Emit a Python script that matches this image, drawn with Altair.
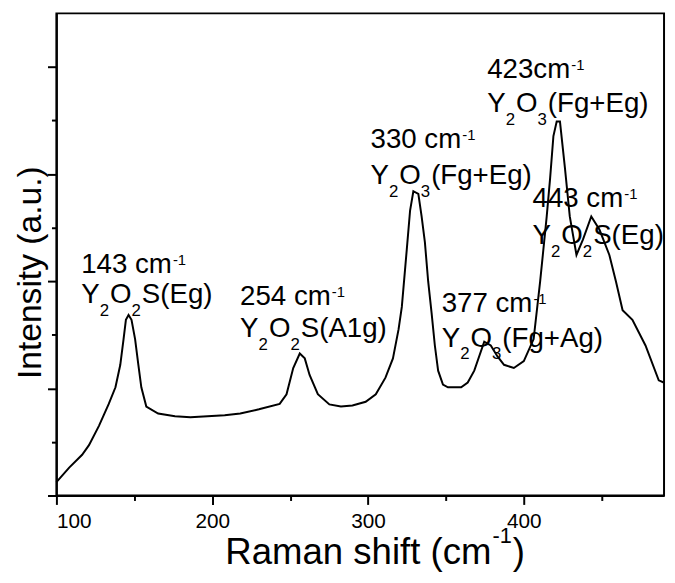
import altair as alt
import pandas as pd

# ---------------- data ----------------
shift = [100.0, 108.2, 116.5, 120.9, 127.3, 133.6, 137.9, 141.0, 143.1, 144.6,
         146.3, 148.2, 150.5, 152.6, 154.5, 157.7, 165.3, 176.1, 186.0, 197.0,
         208.0, 218.0, 230.0, 243.3, 247.7, 252.0, 256.2, 259.4, 262.5, 267.8,
         275.2, 282.6, 290.0, 298.5, 305.0, 311.2, 316.0, 319.6, 321.7, 324.9,
         327.0, 329.1, 332.3, 334.4, 336.5, 338.6, 340.8, 342.9, 345.0, 348.1,
         351.3, 359.8, 364.0, 368.2, 374.6, 378.8, 383.0, 387.3, 393.6, 400.0,
         406.3, 410.5, 414.7, 416.9, 419.0, 421.1, 423.2, 426.4, 429.5, 433.8,
         438.0, 443.3, 448.6, 454.9, 459.1, 463.4, 469.7, 478.1, 486.6, 489.8]
intensity = [0.25, 0.52, 0.76, 0.94, 1.30, 1.71, 2.02, 2.44, 2.92, 3.28,
             3.37, 3.28, 2.92, 2.44, 2.02, 1.66, 1.53, 1.48, 1.46, 1.48,
             1.50, 1.53, 1.61, 1.71, 1.89, 2.38, 2.65, 2.56, 2.25, 1.89,
             1.70, 1.66, 1.68, 1.75, 1.89, 2.20, 2.56, 3.10, 3.52, 4.60,
             5.32, 5.68, 5.63, 5.21, 4.73, 4.00, 3.41, 2.80, 2.33, 2.07,
             2.02, 2.02, 2.11, 2.33, 2.87, 2.80, 2.60, 2.44, 2.38, 2.51,
             2.92, 4.00, 5.21, 5.93, 6.71, 6.98, 6.98, 6.11, 5.21, 4.49,
             4.78, 5.21, 4.96, 4.49, 4.00, 3.46, 3.28, 2.80, 2.15, 2.11]

x_ticks = [100, 150, 200, 250, 300, 350, 400, 450]
y_ticks = [0, 1, 2, 3, 4, 5, 6, 7, 8]

# peak annotations: left edge (cm-1), baseline of line 1 and line 2 (a.u.)
ann_left = [115.9, 217.9, 301.6, 347.3, 376.5, 405.6]
ann_line1 = [4.15, 3.55, 6.48, 3.43, 7.79, 5.39]
ann_line2 = [3.59, 2.96, 5.81, 2.78, 7.16, 4.69]
ann_freq = ["143 cm", "254 cm", "330 cm", "377 cm", "423cm", "443 cm"]
ann_mode = ["Y_2O_2S(Eg)", "Y_2O_2S(A1g)", "Y_2O_3(Fg+Eg)",
            "Y_2O_3(Fg+Ag)", "Y_2O_3(Fg+Eg)", "Y_2O_2S(Eg)"]

x_title = "Raman shift (cm"
y_title = "Intensity (a.u.)"

# ---------------- layout ----------------
W, H = 615, 488
XDOM = [100, 490]
YDOM = [0, 9]
PXX = W / (XDOM[1] - XDOM[0])
PXY = H / (YDOM[1] - YDOM[0])
FONT = "Liberation Sans"
MAIN, SUB, SUP = 28, 17, 15

ARIAL = {' ': .278, '(': .333, ')': .333, '+': .584, '-': .333, '.': .278,
         'A': .667, 'E': .667, 'F': .611, 'O': .778, 'R': .722, 'S': .667,
         'Y': .667, 'a': .556, 'c': .5, 'f': .278, 'g': .556, 'h': .556,
         'i': .222, 'm': .833, 'n': .556, 's': .5, 't': .278}


def tw(s, size):
    return sum(ARIAL.get(ch, .556) for ch in s) * size


rows = []
for left, b1, b2, freq, mode in zip(ann_left, ann_line1, ann_line2, ann_freq, ann_mode):
    # line 1 : frequency + superscript -1
    rows.append(dict(w=left, v=b1, t=freq, fs=MAIN))
    off = tw(freq, MAIN) + 1
    rows.append(dict(w=left + off / PXX, v=b1 + 8 / PXY, t="-1", fs=SUP))
    # line 2 : formula with subscripts
    off = 0.0
    i = 0
    buf = ""
    segs = []
    while i < len(mode):
        if mode[i] == "_":
            if buf:
                segs.append((buf, "m"))
                buf = ""
            segs.append((mode[i + 1], "s"))
            i += 2
        else:
            buf += mode[i]
            i += 1
    if buf:
        segs.append((buf, "m"))
    for txt, kind in segs:
        if kind == "m":
            rows.append(dict(w=left + off / PXX, v=b2, t=txt, fs=MAIN))
            off += tw(txt, MAIN)
        else:
            rows.append(dict(w=left + off / PXX, v=b2 - 13 / PXY, t=txt, fs=SUB))
            off += tw(txt, SUB) + 1

ann_df = pd.DataFrame(rows)
spec_df = pd.DataFrame({"shift": shift, "intensity": intensity})

xscale = alt.Scale(domain=XDOM, nice=False, zero=False)
yscale = alt.Scale(domain=YDOM, nice=False, zero=False)

x_axis = alt.Axis(
    values=x_ticks,
    tickSize={"condition": {"test": "datum.value % 100 === 0", "value": 9}, "value": 5},
    labelExpr="datum.value % 100 === 0 ? datum.label : ''",
    labelPadding=6, grid=False, title=None,
)
y_axis = alt.Axis(
    values=y_ticks, labels=False, grid=False,
    tickSize={"condition": {"test": "datum.value % 2 === 0", "value": 9}, "value": 5},
    title=y_title, titleFont=FONT, titleFontSize=34, titleFontWeight="normal",
    titleColor="black", titleAngle=270, titleBaseline="alphabetic",
    titleAlign="center", titleX=-16, titleY=262,
)

line = alt.Chart(spec_df).mark_line(color="black", strokeWidth=2).encode(
    x=alt.X("shift:Q", scale=xscale, axis=x_axis),
    y=alt.Y("intensity:Q", scale=yscale, axis=y_axis),
)

labels = alt.Chart(ann_df).mark_text(
    align="left", baseline="alphabetic", font=FONT, color="black"
).encode(
    x=alt.X("w:Q", scale=xscale),
    y=alt.Y("v:Q", scale=yscale),
    text="t:N",
    size=alt.Size("fs:Q", scale=None, legend=None),
)

# x-axis title with superscript
XT_SIZE, XT_SUP = 37, 22
xt_x0 = 171
xt_base = 557
xt_rows = [
    dict(px=xt_x0, py=xt_base, t=x_title, fs=XT_SIZE),
    dict(px=xt_x0 + tw(x_title, XT_SIZE) + 1, py=xt_base - 21, t="-1", fs=XT_SUP),
    dict(px=xt_x0 + tw(x_title, XT_SIZE) + tw("-1", XT_SUP) + 2, py=xt_base, t=")", fs=XT_SIZE),
]
xt = alt.Chart(pd.DataFrame(xt_rows)).mark_text(
    align="left", baseline="alphabetic", font=FONT, color="black"
).encode(
    x=alt.X("px:Q", scale=None),
    y=alt.Y("py:Q", scale=None),
    text="t:N",
    size=alt.Size("fs:Q", scale=None, legend=None),
)

chart = alt.layer(line, labels, xt).properties(
    width=W, height=H,
    autosize=alt.AutoSizeParams(type="none"),
    padding={"left": 49, "top": 2, "right": 3, "bottom": 75},
    background="white",
).configure_view(
    stroke="black", strokeWidth=2
).configure_axis(
    domainColor="black", domainWidth=2, tickColor="black", tickWidth=2,
    labelFont=FONT, labelFontSize=21, labelColor="black",
)

chart.save("out.html", embed_options={"renderer": "svg", "actions": False})
